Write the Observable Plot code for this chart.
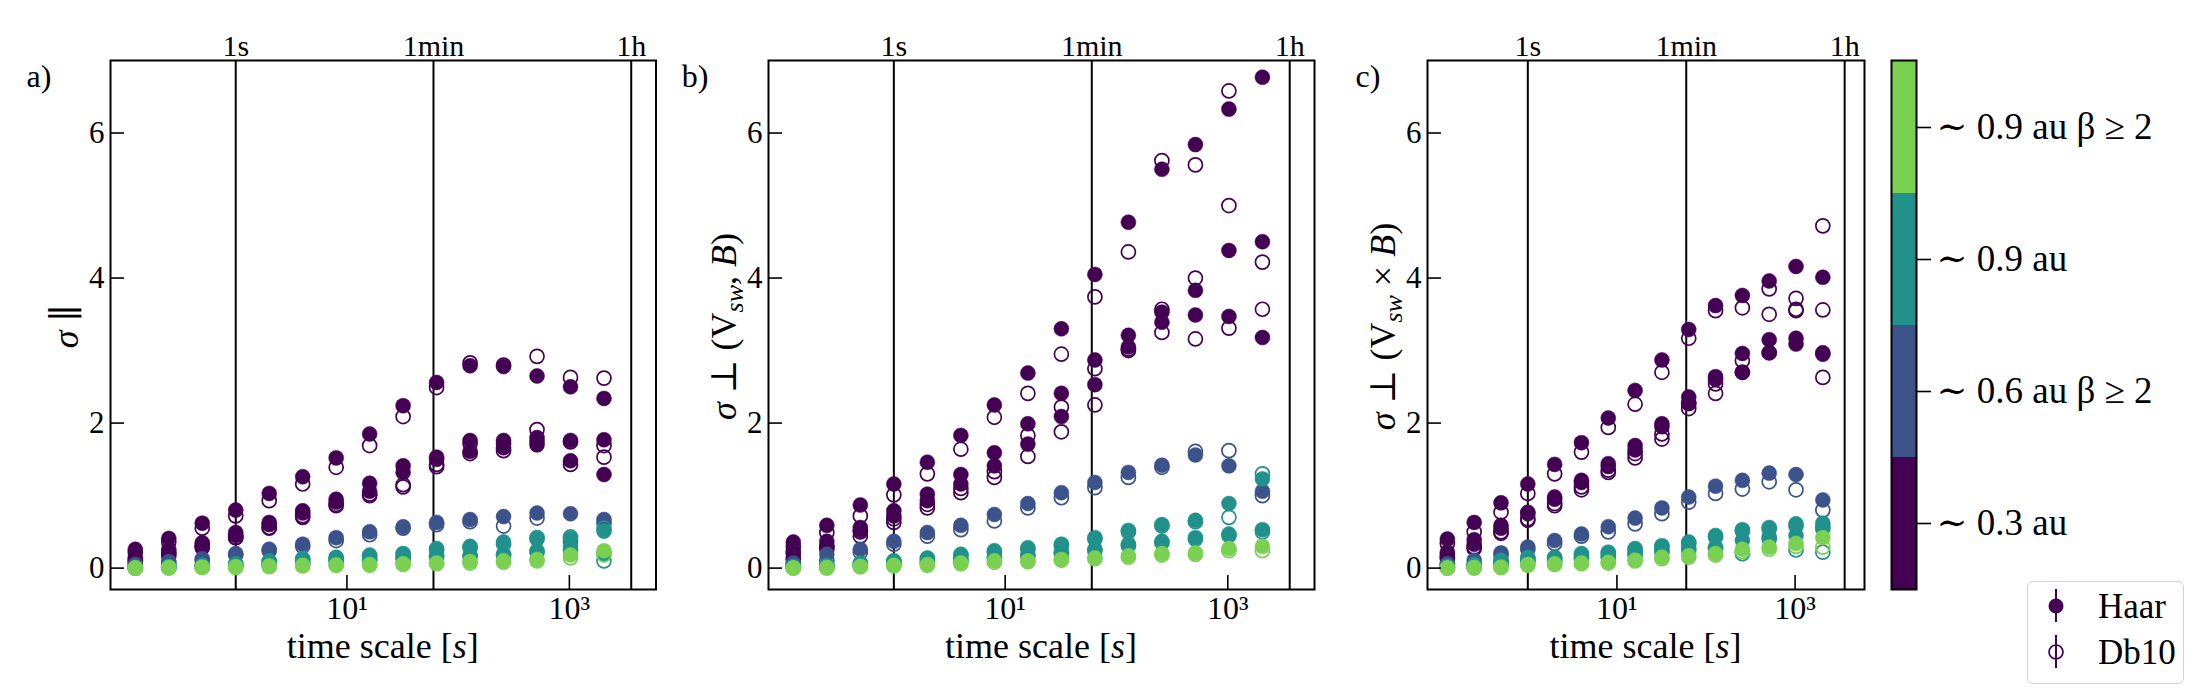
<!DOCTYPE html>
<html><head><meta charset="utf-8">
<script src="https://cdn.jsdelivr.net/npm/d3@7"></script>
<script src="https://cdn.jsdelivr.net/npm/@observablehq/plot@0.6"></script>
<style>
body{margin:0;background:#fff;}
#fig{position:relative;width:2200px;height:700px;font-family:'Liberation Serif','DejaVu Serif',serif;overflow:hidden;}
#fig > svg{position:absolute;top:0;}
#legend{position:absolute;left:2027px;top:581px;width:157px;height:103px;border:1.5px solid #d4d4d4;border-radius:6px;background:#fff;box-sizing:border-box;}
</style></head><body><div id="fig"></div>
<script>
// ---------- data ----------
const scales = [0.125,0.25,0.5,1,2,4,8,16,32,64,128,256,512,1024,2048];
const categories = ["∼ 0.3 au","∼ 0.6 au β ≥ 2","∼ 0.9 au","∼ 0.9 au β ≥ 2"];
const colors = ["#440154","#3b528b","#21918c","#7ad151"];
const wavelets = ["Haar","Db10"];
const refLines = [1,60,3600];
const refLabels = ["1s","1min","1h"];
const xTicks = [10,1000];
const xTickLabels = ["10¹","10³"];
const yTicks = [0,2,4,6];
const panelLetters = ["a)","b)","c)"];

// panel a : sigma parallel
const a_03A_haar = [0.26,0.41,0.62,0.80,1.03,1.26,1.52,1.85,2.24,2.56,2.79,2.78,2.65,2.50,2.34];
const a_03A_db10 = [0.22,0.36,0.55,0.72,0.93,1.16,1.39,1.69,2.09,2.49,2.83,2.80,2.92,2.63,2.62];
const a_03B_haar = [0.15,0.26,0.35,0.49,0.63,0.79,0.95,1.17,1.41,1.53,1.76,1.76,1.80,1.76,1.77];
const a_03B_db10 = [0.12,0.22,0.30,0.42,0.56,0.72,0.86,1.02,1.15,1.43,1.72,1.72,1.91,1.74,1.69];
const a_03C_haar = [0.10,0.20,0.32,0.45,0.60,0.76,0.91,1.06,1.32,1.50,1.61,1.66,1.70,1.48,1.29];
const a_03C_db10 = [0.08,0.17,0.28,0.42,0.55,0.70,0.88,1.00,1.12,1.40,1.58,1.62,1.75,1.43,1.53];
const a_06_haar  = [0.05,0.09,0.13,0.20,0.26,0.33,0.42,0.50,0.57,0.63,0.67,0.71,0.76,0.75,0.67];
const a_06_db10  = [0.04,0.07,0.11,0.18,0.24,0.30,0.38,0.46,0.55,0.60,0.64,0.58,0.69,0.37,0.62];
const a_09A_haar = [0.01,0.02,0.04,0.06,0.10,0.13,0.15,0.18,0.20,0.27,0.30,0.36,0.40,0.41,0.51];
const a_09A_db10 = [0.01,0.02,0.03,0.05,0.09,0.12,0.14,0.16,0.19,0.25,0.28,0.33,0.42,0.43,0.55];
const a_09B_haar = [0.00,0.01,0.02,0.04,0.06,0.08,0.10,0.12,0.14,0.17,0.17,0.19,0.24,0.30,0.20];
const a_09B_db10 = [0.00,0.01,0.02,0.03,0.05,0.07,0.09,0.11,0.13,0.16,0.16,0.18,0.22,0.25,0.10];
const a_09b_haar = [0.00,0.01,0.01,0.02,0.03,0.04,0.04,0.05,0.06,0.07,0.09,0.10,0.12,0.18,0.24];
const a_09b_db10 = [0.00,0.00,0.01,0.01,0.02,0.03,0.04,0.04,0.05,0.06,0.07,0.08,0.10,0.14,0.18];

// panel b : sigma perp (Vsw, B)
const b_03A_haar = [0.36,0.59,0.87,1.16,1.46,1.83,2.25,2.69,3.30,4.05,4.77,5.50,5.84,6.33,6.77];
const b_03A_db10 = [0.30,0.49,0.72,1.01,1.30,1.64,2.08,2.41,2.95,3.74,4.36,5.62,5.56,6.58,null];
const b_03B_haar = [0.24,0.37,0.56,0.79,1.02,1.29,1.59,1.99,2.41,2.87,3.21,3.53,3.83,4.38,4.50];
const b_03B_db10 = [0.20,0.30,0.50,0.68,0.88,1.10,1.33,1.83,2.22,2.75,3.00,3.57,4.00,5.00,4.22];
const b_03C_haar = [0.14,0.30,0.52,0.72,0.93,1.16,1.41,1.71,2.09,2.53,3.05,3.39,3.49,3.47,3.18];
const b_03C_db10 = [0.12,0.26,0.44,0.63,0.83,1.04,1.25,1.54,1.88,2.25,3.02,3.25,3.16,3.31,3.57];
const b_06_haar  = [0.07,0.19,0.26,0.37,0.49,0.59,0.74,0.89,1.04,1.18,1.32,1.42,1.56,1.41,1.06];
const b_06_db10  = [0.06,0.10,0.22,0.33,0.44,0.53,0.65,0.83,0.97,1.11,1.25,1.39,1.61,1.62,1.00];
const b_09A_haar = [0.02,0.04,0.07,0.10,0.14,0.19,0.24,0.28,0.33,0.42,0.52,0.60,0.66,0.89,1.23];
const b_09A_db10 = [0.02,0.03,0.06,0.09,0.13,0.17,0.22,0.26,0.31,0.40,0.50,0.58,0.64,0.70,1.30];
const b_09B_haar = [0.01,0.02,0.04,0.06,0.09,0.12,0.15,0.18,0.22,0.26,0.33,0.37,0.42,0.47,0.53];
const b_09B_db10 = [0.01,0.02,0.03,0.05,0.08,0.11,0.14,0.17,0.20,0.24,0.31,0.35,0.40,0.45,0.50];
const b_09b_haar = [0.00,0.01,0.02,0.04,0.05,0.07,0.10,0.10,0.12,0.14,0.17,0.20,0.21,0.27,0.30];
const b_09b_db10 = [0.00,0.00,0.02,0.03,0.04,0.06,0.08,0.09,0.11,0.13,0.15,0.18,0.19,0.24,0.24];

// panel c : sigma perp (Vsw x B)
const c_03A_haar = [0.40,0.63,0.90,1.16,1.43,1.73,2.07,2.45,2.87,3.29,3.62,3.76,3.96,4.16,4.01];
const c_03A_db10 = [0.34,0.50,0.77,1.03,1.30,1.60,1.94,2.26,2.70,3.17,3.55,3.59,3.85,3.72,4.72];
const c_03B_haar = [0.22,0.39,0.59,0.77,0.98,1.21,1.44,1.69,1.99,2.36,2.64,2.96,3.15,3.17,2.97];
const c_03B_db10 = [0.18,0.29,0.50,0.68,0.89,1.12,1.35,1.58,1.85,2.27,2.54,2.86,3.50,3.57,3.56];
const c_03C_haar = [0.15,0.33,0.55,0.75,0.95,1.18,1.40,1.63,1.95,2.27,2.60,2.70,2.97,3.09,2.95];
const c_03C_db10 = [0.13,0.27,0.48,0.66,0.86,1.08,1.32,1.52,1.78,2.20,2.41,2.70,2.97,3.55,2.63];
const c_06_haar  = [0.06,0.11,0.21,0.29,0.38,0.47,0.57,0.69,0.83,0.98,1.13,1.21,1.31,1.29,0.94];
const c_06_db10  = [0.05,0.04,0.18,0.26,0.34,0.44,0.50,0.61,0.75,0.91,1.03,1.09,1.19,1.08,0.80];
const c_09A_haar = [0.02,0.05,0.11,0.15,0.15,0.20,0.22,0.27,0.31,0.36,0.45,0.53,0.56,0.61,0.62];
const c_09A_db10 = [0.02,0.04,0.10,0.13,0.14,0.18,0.20,0.25,0.29,0.34,0.43,0.51,0.54,0.58,0.56];
const c_09B_haar = [0.01,0.02,0.06,0.10,0.11,0.14,0.16,0.20,0.24,0.27,0.29,0.38,0.43,0.45,0.54];
const c_09B_db10 = [0.01,0.02,0.05,0.09,0.10,0.13,0.15,0.18,0.22,0.25,0.27,0.20,0.40,0.25,0.22];
const c_09b_haar = [0.00,0.01,0.01,0.05,0.06,0.07,0.08,0.11,0.15,0.17,0.20,0.26,0.29,0.34,0.42];
const c_09b_db10 = [0.00,0.00,0.01,0.04,0.05,0.06,0.07,0.10,0.13,0.15,0.18,0.23,0.26,0.30,0.29];

// ---------- build tables ----------
function table(seriesList) {
  const rows = [];
  for (const [haar, db10, cat] of seriesList) {
    [haar, db10].forEach((vals, w) => vals.forEach((v, i) => {
      if (v != null) rows.push({t: scales[i], v, cat, wavelet: wavelets[w]});
    }));
  }
  return rows;
}
const panelData = [
  table([[a_03A_haar,a_03A_db10,0],[a_03B_haar,a_03B_db10,0],[a_03C_haar,a_03C_db10,0],[a_06_haar,a_06_db10,1],[a_09A_haar,a_09A_db10,2],[a_09B_haar,a_09B_db10,2],[a_09b_haar,a_09b_db10,3]]),
  table([[b_03A_haar,b_03A_db10,0],[b_03B_haar,b_03B_db10,0],[b_03C_haar,b_03C_db10,0],[b_06_haar,b_06_db10,1],[b_09A_haar,b_09A_db10,2],[b_09B_haar,b_09B_db10,2],[b_09b_haar,b_09b_db10,3]]),
  table([[c_03A_haar,c_03A_db10,0],[c_03B_haar,c_03B_db10,0],[c_03C_haar,c_03C_db10,0],[c_06_haar,c_06_db10,1],[c_09A_haar,c_09A_db10,2],[c_09B_haar,c_09B_db10,2],[c_09b_haar,c_09b_db10,3]])
];

// ---------- layout ----------
const FONT = "'Liberation Serif','DejaVu Serif',serif";
const H = 700, MT = 60, MB = 111;
const layouts = [
  {left: 0,    width: 670, ml: 110, mr: 14.5, letterX: 39},
  {left: 670,  width: 660, ml: 98,  mr: 16,   letterX: 25},
  {left: 1330, width: 545, ml: 97,  mr: 11,   letterX: 38}
];
const ylabels = [
  [["σ", "italic"], [" ∥", null]],
  [["σ", "italic"], [" ⊥ (V", null], ["sw", "sub"], [", ", null], ["B", "italic"], [")", null]],
  [["σ", "italic"], [" ⊥ (V", null], ["sw", "sub"], [" × ", null], ["B", "italic"], [")", null]]
];
const fig = document.getElementById("fig");

panelData.forEach((rows, p) => {
  const L = layouts[p];
  const fw = L.width - L.ml - L.mr, fh = H - MT - MB;
  const marks = [Plot.ruleX(refLines, {x: d => d, stroke: "black", strokeWidth: 2})];
  colors.forEach((c, ci) => {
    marks.push(Plot.dot(rows.filter(d => d.cat === ci && d.wavelet === "Haar"), {x: "t", y: "v", r: 7.5, fill: c, stroke: c, strokeWidth: 0.5}));
    marks.push(Plot.dot(rows.filter(d => d.cat === ci && d.wavelet === "Db10"), {x: "t", y: "v", r: 7, fill: "none", stroke: c, strokeWidth: 1.7}));
  });
  marks.push(
    Plot.frame({stroke: "black", strokeWidth: 2}),
    Plot.tickY(yTicks, {y: d => d, stroke: "black", strokeWidth: 1.6, insetRight: fw - 14}),
    Plot.tickX(xTicks, {x: d => d, stroke: "black", strokeWidth: 1.6, insetTop: fh - 14}),
    Plot.text(yTicks, {y: d => d, text: d => String(d), frameAnchor: "left", textAnchor: "end", dx: -6, fontSize: 31, fill: "black"}),
    Plot.text(xTicks, {x: d => d, text: (d, i) => xTickLabels[i], frameAnchor: "bottom", lineAnchor: "middle", dy: 19, fontSize: 32, fill: "black"}),
    Plot.text(refLines, {x: d => d, text: (d, i) => refLabels[i], frameAnchor: "top", lineAnchor: "bottom", dy: -5, fontSize: 30, fill: "black"})
  );
  const svg = Plot.plot({
    width: L.width, height: H,
    marginLeft: L.ml, marginRight: L.mr, marginTop: MT, marginBottom: MB,
    x: {type: "log", domain: [0.0748, 6012], axis: null},
    y: {domain: [-0.295, 7.0], axis: null},
    style: {fontFamily: FONT, background: "transparent", overflow: "visible", color: "black"},
    marks
  });
  svg.style.left = L.left + "px";
  fig.appendChild(svg);
  const s = d3.select(svg);
  // panel letter
  s.append("text").attr("x", L.letterX).attr("y", 87).attr("font-size", 32).attr("font-family", FONT).text(panelLetters[p]);
  // x label
  const xl = s.append("text").attr("x", L.ml + fw / 2).attr("y", 658).attr("text-anchor", "middle")
    .attr("font-size", 36).attr("font-family", FONT);
  xl.append("tspan").text("time scale [");
  xl.append("tspan").attr("font-style", "italic").text("s");
  xl.append("tspan").text("]");
  // y label
  const yl = s.append("text").attr("transform", `translate(${L.ml - 45},${MT + (fh / 2) + 2}) rotate(-90)`)
    .attr("text-anchor", "middle").attr("dy", "0.35em").attr("font-size", 36).attr("font-family", FONT);
  ylabels[p].forEach(([t, st]) => {
    const ts = yl.append("tspan").text(t);
    if (st === "italic") ts.attr("font-style", "italic");
    if (st === "sub") { ts.attr("font-style", "italic").attr("font-size", 26).attr("baseline-shift", "-28%"); }
  });
});

// ---------- colorbar ----------
const cbar = Plot.plot({
  width: 325, height: H, marginLeft: 16, marginRight: 284, marginTop: MT, marginBottom: MB,
  x: {axis: null},
  y: {type: "band", domain: categories.slice().reverse(), padding: 0, axis: null},
  color: {domain: categories, range: colors},
  style: {fontFamily: FONT, background: "transparent", overflow: "visible", color: "black"},
  marks: [
    Plot.cell(categories, {y: d => d, fill: d => d}),
    Plot.frame({stroke: "black", strokeWidth: 2}),
    Plot.axisY({anchor: "right", tickSize: 14, tickPadding: 6, fontSize: 37, strokeWidth: 1.6, label: null})
  ]
});
cbar.style.left = "1875px";
fig.appendChild(cbar);

// ---------- legend ----------
const leg = document.createElement("div");
leg.id = "legend";
leg.innerHTML = `<svg width="157" height="103" style="position:absolute;left:-1.5px;top:-1.5px;overflow:visible;font-family:${FONT.replace(/'/g,'&quot;')}">
  <line x1="29" x2="29" y1="8" y2="41" stroke="${colors[0]}" stroke-width="2"/>
  <circle cx="29" cy="25" r="7.5" fill="${colors[0]}"/>
  <text x="71" y="25" dy="0.35em" font-size="35">${wavelets[0]}</text>
  <line x1="29" x2="29" y1="54" y2="87" stroke="${colors[0]}" stroke-width="2"/>
  <circle cx="29" cy="71" r="7" fill="none" stroke="${colors[0]}" stroke-width="1.7"/>
  <text x="71" y="71" dy="0.35em" font-size="35">${wavelets[1]}</text>
</svg>`;
fig.appendChild(leg);
</script></body></html>
